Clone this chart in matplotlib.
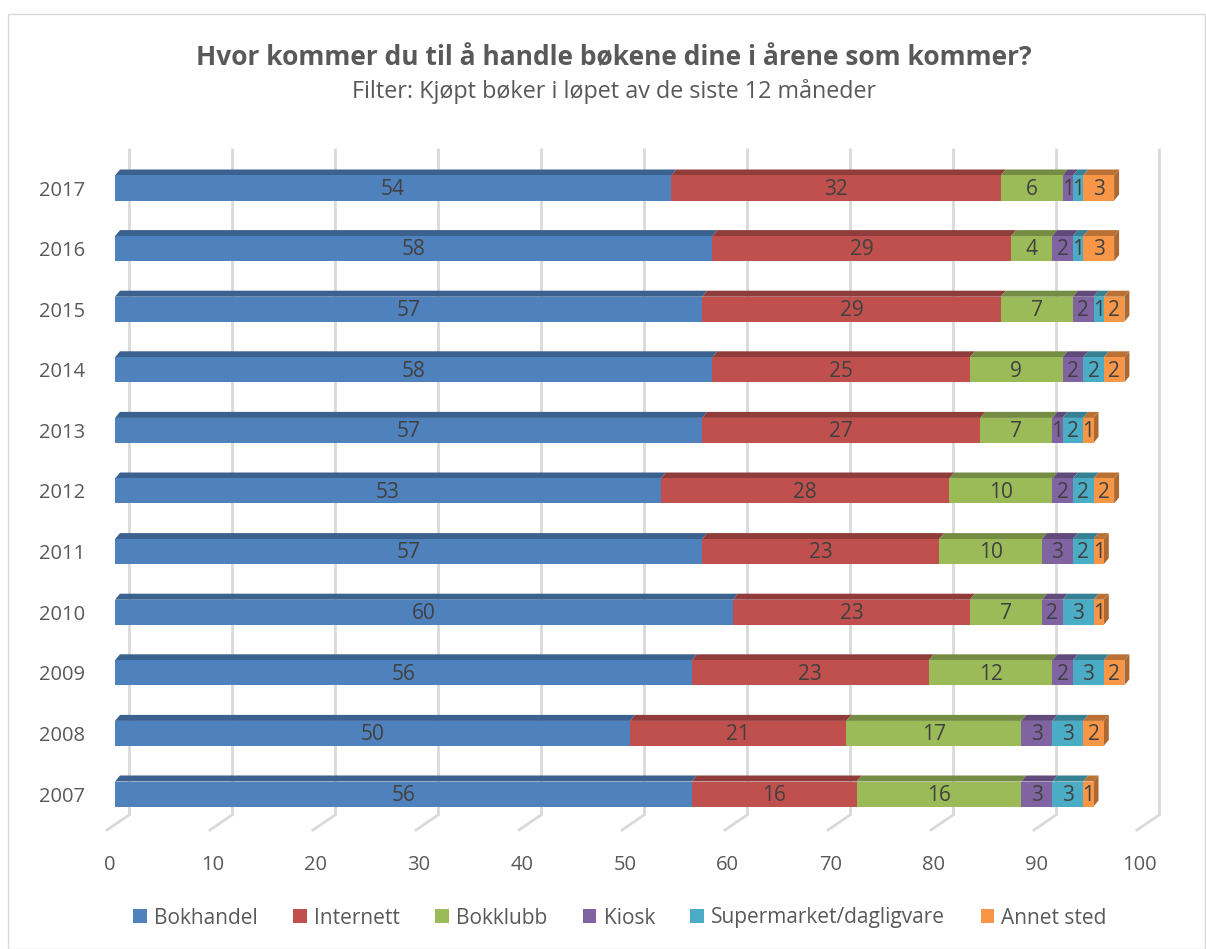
import matplotlib
matplotlib.use("Agg")
import matplotlib.pyplot as plt
from matplotlib.patches import Polygon, Rectangle, Patch
from matplotlib.colors import to_rgb
import numpy as np

plt.rcParams['font.family'] = ['Open Sans', 'DejaVu Sans']

years = ["2007", "2008", "2009", "2010", "2011", "2012", "2013", "2014", "2015", "2016", "2017"]
series = ["Bokhandel", "Internett", "Bokklubb", "Kiosk", "Supermarket/dagligvare", "Annet sted"]
bokhandel   = [56, 50, 56, 60, 57, 53, 57, 58, 57, 58, 54]
internett   = [16, 21, 23, 23, 23, 28, 27, 25, 29, 29, 32]
bokklubb    = [16, 17, 12, 7, 10, 10, 7, 9, 7, 4, 6]
kiosk       = [3, 3, 2, 2, 3, 2, 1, 2, 2, 2, 1]
supermarked = [3, 3, 3, 3, 2, 2, 2, 2, 1, 1, 1]
annet       = [1, 2, 2, 1, 1, 2, 1, 2, 2, 3, 3]
values = [bokhandel, internett, bokklubb, kiosk, supermarked, annet]
colors = ["#4F81BD", "#C0504D", "#9BBB59", "#8064A2", "#4BACC6", "#F79646"]
xticks = [0, 10, 20, 30, 40, 50, 60, 70, 80, 90, 100]

W, H = 1206, 949
fig = plt.figure(figsize=(W / 100, H / 100), dpi=100)

# chart border
fig.patches.append(Rectangle((8 / W, 0), (W - 9) / W, (H - 14) / H, transform=fig.transFigure,
                             fill=False, edgecolor="#d9d9d9", linewidth=1))

# axes mapping: value v -> px 115 + 10.3 v ; index i -> px 794 - 60.6 i
px_per_v = 10.3
px_per_i = 60.6
ax_l, ax_r, ax_t, ax_b = 95, 1190, 140, 840
ax = fig.add_axes([ax_l / W, 1 - ax_b / H, (ax_r - ax_l) / W, (ax_b - ax_t) / H])
ax.set_xlim((ax_l - 115) / px_per_v, (ax_r - 115) / px_per_v)
ax.set_ylim((794 - ax_b) / px_per_i, (794 - ax_t) / px_per_i)
ax.patch.set_visible(False)
for s in ax.spines.values():
    s.set_visible(False)

grid_c = "#d9d9d9"
back_dx = 14 / px_per_v
front_dx = -8 / px_per_v
y_top = (794 - 148) / px_per_i
y_back = (794 - 815) / px_per_i
y_front = (794 - 830) / px_per_i
for v in xticks:
    ax.plot([v + back_dx, v + back_dx], [y_back, y_top], color=grid_c, lw=2, zorder=0,
            solid_capstyle="butt")
    ax.plot([v + front_dx, v + back_dx], [y_front, y_back], color=grid_c, lw=2, zorder=0)

h = 25 / px_per_i
dx = 5 / px_per_v
dy = 6 / px_per_i

def dark(c, f=0.75):
    r, g, b = to_rgb(c)
    return (r * f, g * f, b * f)

ypos = np.arange(len(years))
left = np.zeros(len(years))
for k, (vals, c) in enumerate(zip(values, colors)):
    vals = np.array(vals, dtype=float)
    ax.barh(ypos, vals, left=left, height=h, color=c, edgecolor="none", zorder=3)
    for i in range(len(years)):
        l, r = left[i], left[i] + vals[i]
        yt = ypos[i] + h / 2
        ax.add_patch(Polygon([(l, yt), (r, yt), (r + dx, yt + dy), (l + dx, yt + dy)],
                             closed=True, facecolor=dark(c), edgecolor="none", zorder=2))
        if k == len(values) - 1:
            yb = ypos[i] - h / 2
            ax.add_patch(Polygon([(r, yb), (r + dx, yb + dy), (r + dx, yt + dy), (r, yt)],
                                 closed=True, facecolor=dark(c, 0.7), edgecolor="none", zorder=2))
        ax.text((l + r) / 2, ypos[i] - 0.02, f"{int(vals[i])}", ha="center", va="center",
                fontsize=15, color="#404040", zorder=5)
    left = left + vals

ax.set_yticks(ypos)
ax.set_yticklabels(years, fontsize=14.5, color="#595959")
ax.tick_params(axis="y", length=0, pad=7)
ax.set_xticks([v - 0.5 for v in xticks])
ax.set_xticklabels([str(v) for v in xticks], fontsize=14.5, color="#595959")
ax.tick_params(axis="x", length=0, pad=11)

fig.text(614 / W, 1 - 58 / H, "Hvor kommer du til å handle bøkene dine i årene som kommer?",
         ha="center", va="center", fontsize=19, fontweight="bold", color="#595959")
fig.text(614 / W, 1 - 92 / H, "Filter: Kjøpt bøker i løpet av de siste 12 måneder",
         ha="center", va="center", fontsize=16.8, color="#595959")

handles = [Patch(facecolor=c, edgecolor="none") for c in colors]
fig.legend(handles, series, loc="center", bbox_to_anchor=(620 / W, 1 - 918 / H), ncol=6,
           frameon=False, fontsize=15, handlelength=0.65, handleheight=0.65,
           handletextpad=0.35, columnspacing=1.7, labelcolor="#595959")

fig.savefig("out.png", dpi=100)
